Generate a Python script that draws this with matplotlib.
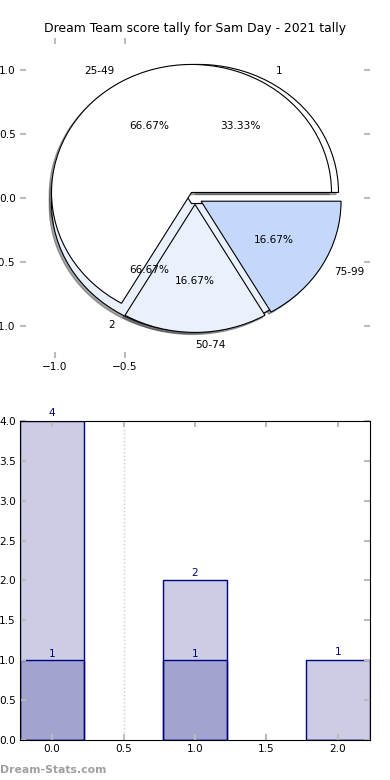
import matplotlib
matplotlib.use("Agg")
import matplotlib.pyplot as plt

# pie: two overlaid pies (the site draws both on one axes)
tally_labels = ["1", "2"]
tally_values = [1, 2]
tally_colors = ["white", "#eaf0fc"]

band_labels = ["25-49", "50-74", "75-99"]
band_values = [4, 1, 1]
band_colors = ["white", "#eaf0fc", "#c4d8fc"]

# bars
bar_x = [0, 1, 2]
bar_total = [4, 2, 1]
bar_inner = [1, 1, 0]

title = "Dream Team score tally for Sam Day - 2021 tally"

fs = 7.6
tick_grey = "#bbbbbb"
shadow = {"ox": -0.012, "oy": -0.012}

fig = plt.figure(figsize=(3.9, 7.8), dpi=100)
ax1 = fig.add_axes([0.0513, 0.541, 0.8974, 0.4103])
ax2 = fig.add_axes([0.0513, 0.0513, 0.8974, 0.409])

ax1.pie(tally_values, labels=tally_labels, colors=tally_colors, explode=[0.05] * 2,
        autopct="%1.2f%%", shadow=shadow, wedgeprops={"edgecolor": "black", "linewidth": 0.8},
        textprops={"fontsize": fs})
ax1.pie(band_values, labels=band_labels, colors=band_colors, explode=[0.05] * 3,
        autopct="%1.2f%%", shadow=shadow, wedgeprops={"edgecolor": "black", "linewidth": 0.8},
        textprops={"fontsize": fs})
ax1.set_aspect("auto")
ax1.set_xlim(-1.25, 1.25)
ax1.set_ylim(-1.25, 1.25)
ax1.set_xticks([-1.0, -0.5])
ax1.set_yticks([-1.0, -0.5, 0.0, 0.5, 1.0])
ax1.set_title(title, fontsize=8.9, pad=4)

ax2.bar(bar_x, bar_total, width=0.45, color=(0, 0, 0.5, 0.2), edgecolor="navy", linewidth=1)
ax2.bar(bar_x, bar_inner, width=0.45, color=(0, 0, 0.5, 0.2), edgecolor="navy", linewidth=1)
for x, h in zip(bar_x, bar_total):
    ax2.annotate(str(h), (x, h), xytext=(0, 2), textcoords="offset points",
                 ha="center", va="bottom", color="navy", fontsize=fs)
for x, h in zip(bar_x, bar_inner):
    if h > 0:
        ax2.annotate(str(h), (x, h), xytext=(0, 1), textcoords="offset points",
                     ha="center", va="bottom", color="navy", fontsize=fs)
ax2.axvline(0.5, color="#cccccc", linestyle=":", linewidth=1)
ax2.set_xlim(-0.225, 2.225)
ax2.set_ylim(0, 4)
ax2.set_xticks([0.0, 0.5, 1.0, 1.5, 2.0])
ax2.set_yticks([0.0, 0.5, 1.0, 1.5, 2.0, 2.5, 3.0, 3.5, 4.0])

for ax in (ax1, ax2):
    ax.tick_params(direction="in", length=4, width=1.5, color=tick_grey,
                   top=True, right=True, labelsize=fs, pad=3)

fig.text(0.0, 0.0128, "Dream-Stats.com", color="#a0a0a0", fontsize=7.8,
         fontweight="bold", ha="left", va="center")

fig.savefig("out.png", dpi=100)
